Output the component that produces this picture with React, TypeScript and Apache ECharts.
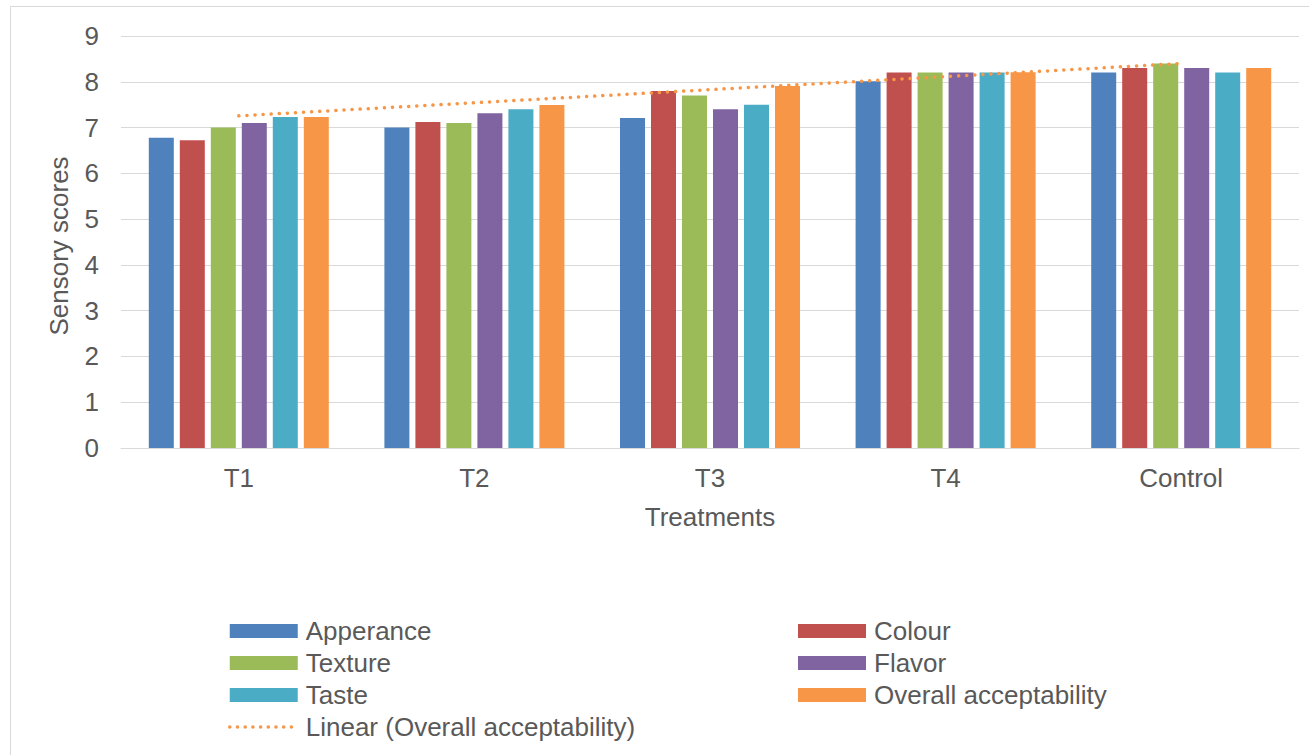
import React, { useEffect, useRef } from "react";
import * as echarts from "echarts";

const categories = ["T1", "T2", "T3", "T4", "Control"];
const appearance = [6.78, 7.0, 7.21, 8.01, 8.2];
const colour = [6.72, 7.12, 7.8, 8.2, 8.3];
const texture = [7.0, 7.1, 7.7, 8.2, 8.4];
const flavor = [7.1, 7.31, 7.4, 8.2, 8.3];
const taste = [7.23, 7.4, 7.5, 8.2, 8.2];
const overall = [7.23, 7.49, 7.91, 8.21, 8.3];
const yTicks = [0, 1, 2, 3, 4, 5, 6, 7, 8, 9];

// least-squares linear trendline of overall acceptability (Excel "Linear" trendline)
function linearTrend(values: number[]): number[] {
  const n = values.length;
  const xs = values.map((_, i) => i + 1);
  const mx = xs.reduce((a, b) => a + b, 0) / n;
  const my = values.reduce((a, b) => a + b, 0) / n;
  let num = 0;
  let den = 0;
  for (let i = 0; i < n; i++) {
    num += (xs[i] - mx) * (values[i] - my);
    den += (xs[i] - mx) * (xs[i] - mx);
  }
  const slope = num / den;
  return xs.map((x) => +(my + slope * (x - mx)).toFixed(4));
}

const FONT = "'Liberation Sans', Arial, sans-serif";
const TEXT = "#595959";
const FS = 26;

export default function App() {
  const ref = useRef<HTMLDivElement>(null);
  useEffect(() => {
    if (!ref.current) return;
    const chart = echarts.init(ref.current, undefined, { renderer: "svg" });
    const barSeries = [
      { name: "Apperance", data: appearance, color: "#4F81BD" },
      { name: "Colour", data: colour, color: "#C0504D" },
      { name: "Texture", data: texture, color: "#9BBB59" },
      { name: "Flavor", data: flavor, color: "#8064A2" },
      { name: "Taste", data: taste, color: "#4BACC6" },
      { name: "Overall acceptability", data: overall, color: "#F79646" },
    ].map((s) => ({
      name: s.name,
      type: "bar",
      data: s.data,
      barWidth: 25,
      barGap: "24%",
      itemStyle: { color: s.color },
    }));
    const legendCommon = {
      orient: "vertical",
      itemWidth: 68,
      itemHeight: 14,
      itemGap: 6,
      textStyle: {
        color: TEXT,
        fontSize: FS,
        fontFamily: FONT,
        lineHeight: 25,
        padding: [0, 0, 0, 3],
      },
      top: 613,
    };
    chart.setOption({
      animation: false,
      textStyle: { fontFamily: FONT },
      graphic: [
        {
          type: "rect",
          shape: { x: 10.5, y: 6.5, width: 1310, height: 770 },
          style: { fill: "none", stroke: "#D9D9D9", lineWidth: 1 },
          silent: true,
        },
      ],
      grid: { left: 121, right: 10, top: 36, bottom: 307 },
      legend: [
        {
          ...legendCommon,
          left: 223,
          data: [
            { name: "Apperance", icon: "rect" },
            { name: "Texture", icon: "rect" },
            { name: "Taste", icon: "rect" },
            {
              name: "Linear (Overall acceptability)",
              itemStyle: { opacity: 0 },
              lineStyle: {
                color: "#F79646",
                width: 3.5,
                type: [0.1, 7.6],
                cap: "round",
                opacity: 1,
              },
            },
          ],
        },
        {
          ...legendCommon,
          left: 793,
          icon: "rect",
          data: ["Colour", "Flavor", "Overall acceptability"],
        },
      ],
      xAxis: {
        type: "category",
        data: categories,
        axisLine: { lineStyle: { color: "#D9D9D9", width: 1 } },
        axisTick: { show: false },
        axisLabel: { color: TEXT, fontSize: FS, fontFamily: FONT, margin: 17 },
        name: "Treatments",
        nameLocation: "middle",
        nameGap: 56,
        nameTextStyle: { color: TEXT, fontSize: FS, fontFamily: FONT },
      },
      yAxis: {
        type: "value",
        min: yTicks[0],
        max: yTicks[yTicks.length - 1],
        interval: 1,
        axisLine: { show: false },
        axisTick: { show: false },
        axisLabel: { color: TEXT, fontSize: FS, fontFamily: FONT, margin: 22 },
        splitLine: { lineStyle: { color: "#D9D9D9", width: 1 } },
        name: "Sensory scores",
        nameLocation: "middle",
        nameRotate: 90,
        nameGap: 49,
        nameTextStyle: {
          color: TEXT,
          fontSize: FS,
          fontFamily: FONT,
          padding: [0, 8, 0, 0],
        },
      },
      series: [
        ...barSeries,
        {
          name: "Linear (Overall acceptability)",
          type: "line",
          data: linearTrend(overall),
          symbol: "none",
          z: 5,
          itemStyle: { color: "#F79646" },
          lineStyle: {
            color: "#F79646",
            width: 3.5,
            type: [0.1, 8],
            cap: "round",
          },
        },
      ],
    });
    return () => chart.dispose();
  }, []);
  return (
    <div
      ref={ref}
      style={{ position: "absolute", left: 0, top: 0, width: 1309, height: 755 }}
    />
  );
}
